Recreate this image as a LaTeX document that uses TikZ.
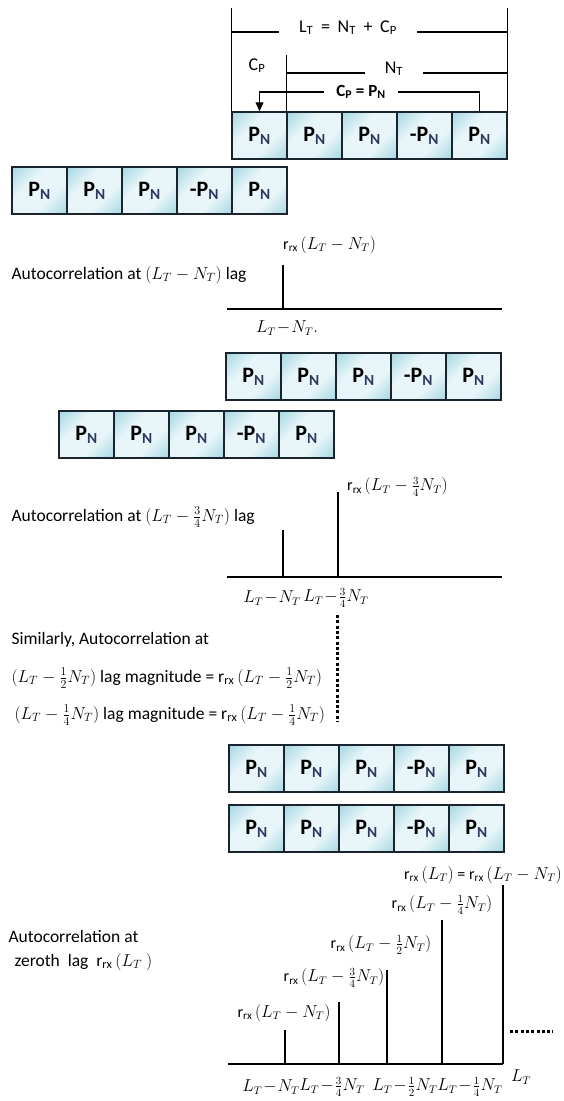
\documentclass[tikz,border=0pt]{standalone}
\usepackage{amsmath}
\usepackage[no-math]{fontspec}
\setmainfont{Carlito}
\usetikzlibrary{arrows.meta,positioning,calc}

\definecolor{celledge}{RGB}{25,36,46}
\definecolor{cellblue}{RGB}{125,195,212}
\definecolor{cellpale}{RGB}{232,246,249}
\definecolor{subblue}{RGB}{45,55,95}
\pgfdeclarehorizontalshading{cellshade}{100bp}{color(0bp)=(cellblue); color(38bp)=(cellpale); color(62bp)=(cellpale); color(100bp)=(cellblue)}

\newcommand{\rrx}{r\textsubscript{rx}\,}
\newcommand{\gap}{\kern0.2em}
% one frame of five blocks: name prefix, left x, top y
\newcommand{\pnrow}[3]{%
  \foreach \lab [count=\i] in {P,P,P,-P,P}
    \node[pncell] (#1-\i) at ({#2+27.5+55*(\i-1)},{#3+23.5}) {\lab\textcolor{subblue}{\textsubscript{N}}};
}

\begin{document}
\begin{tikzpicture}[x=1pt, y=-1pt,
  every node/.style={font=\fontsize{17.5}{20}\selectfont},
  pncell/.style={draw=celledge, line width=1.5pt, shading=cellshade, shading angle=-45,
    minimum width=55pt, minimum height=47pt, inner sep=0pt, font=\fontsize{22}{24}\selectfont\bfseries},
  toplbl/.style={font=\fontsize{18}{20}\selectfont},
  stemlbl/.style={font=\fontsize{16}{18}\selectfont, inner sep=1pt},
  ticklbl/.style={font=\fontsize{16}{18}\selectfont, inner sep=1pt},
  guide/.style={line width=1.1pt},
  axisline/.style={line width=2pt},
  stem/.style={line width=2pt},
  dotline/.style={line width=3pt, dash pattern=on 3pt off 2.3pt}]
  \useasboundingbox (0,0) rectangle (564,1101);

  % block frames
  \pnrow{ra}{232}{112}
  \pnrow{rb}{12}{167}
  \pnrow{rc}{226}{353}
  \pnrow{rd}{59}{411}
  \pnrow{re}{229}{745}
  \pnrow{rf}{229}{805}

  % frame lengths above the first row
  \coordinate (topline) at (0,8);
  \node[toplbl, anchor=base, inner xsep=20pt] (lt) at (348,32) {L\textsubscript{T}\gap{} = \gap N\textsubscript{T}\gap{} + \gap C\textsubscript{P}};
  \draw[guide] (ra-1.north west) -- (ra-1.north west |- topline);
  \draw[guide] (ra-5.north east) -- (ra-5.north east |- topline);
  \draw[guide] (ra-1.north west |- lt.base) -- (lt.base west);
  \draw[guide] (lt.base east) -- (ra-5.north east |- lt.base);
  \node[toplbl, anchor=base] (cp) at (257,70) {C\textsubscript{P}};
  \node[toplbl, anchor=base, inner xsep=20pt] (nt) at (394,73) {N\textsubscript{T}};
  \draw[guide] (ra-2.north west) -- (ra-2.north west |- cp.north);
  \draw[guide] (ra-2.north west |- nt.base) -- (nt.base west);
  \draw[guide] (nt.base east) -- (ra-5.north east |- nt.base);
  % cyclic prefix copy
  \node[font=\fontsize{17}{19}\selectfont\bfseries, fill=white, inner xsep=12pt] (cpn) at (361,92) {C\textsubscript{P} = P\textsubscript{N}};
  \draw[guide] (ra-5.north) |- (cpn.east);
  \draw[guide, -{Triangle[length=9pt,width=8pt]}] (cpn.west) -| (ra-1.north);

  % lag L_T - N_T
  \node[anchor=west] (auto1) at (8,275) {Autocorrelation at $(L_T-N_T)$ lag};
  \coordinate (a1l) at (227,309);
  \coordinate (a1r) at (502,309);
  \draw[axisline] (a1l) -- (a1r);
  \coordinate (s1) at (283,309);
  \coordinate (s1t) at (283,265);
  \draw[stem] (s1) -- (s1t);
  \node[stemlbl, anchor=west] (l1) at (282,245) {\rrx$(L_T-N_T)$};
  \node[ticklbl] (t1) at (287,328) {$L_T\!-\!N_T.$};

  % lag L_T - 3/4 N_T
  \node[anchor=west] (auto2) at (8,517) {Autocorrelation at $(L_T-\tfrac{3}{4}N_T)$ lag};
  \coordinate (a2l) at (227,577);
  \coordinate (a2r) at (502,577);
  \draw[axisline] (a2l) -- (a2r);
  \coordinate (s2a) at (283,577);
  \coordinate (s2at) at (283,530);
  \coordinate (s2b) at (338,577);
  \coordinate (s2bt) at (338,492);
  \draw[stem] (s2a) -- (s2at);
  \draw[stem] (s2b) -- (s2bt);
  \node[stemlbl, anchor=west] (l2) at (346,487) {\rrx$(L_T-\tfrac{3}{4}N_T)$};
  \node[ticklbl] (t2a) at (272,598) {$L_T\!-\!N_T$};
  \node[ticklbl] (t2b) at (336,598) {$L_T\!-\!\tfrac{3}{4}N_T$};

  % further lags
  \coordinate (d1) at (337,615);
  \coordinate (d2) at (337,722);
  \draw[dotline] (d1) -- (d2);
  \node[anchor=west] (sim) at (8,640) {Similarly, Autocorrelation at};
  \node[anchor=west] (sim2) at (8,678) {$(L_T-\tfrac{1}{2}N_T)$ lag magnitude = \rrx$(L_T-\tfrac{1}{2}N_T)$};
  \node[anchor=west] (sim4) at (11,715) {$(L_T-\tfrac{1}{4}N_T)$ lag magnitude = \rrx$(L_T-\tfrac{1}{4}N_T)$};

  % zeroth lag
  \node[anchor=west] (auto3) at (5,936) {Autocorrelation at};
  \node[anchor=west] (auto3b) at (11,962) {zeroth\ \ lag\ \ \rrx$(L_T\ )$};
  \coordinate (a3l) at (228,1064);
  \draw[axisline] (a3l) -- (503,1064) coordinate (a3r);
  \foreach \sx/\st [count=\k] in {285/1030, 339/1002, 387/970, 442/920, 503/885} {
    \coordinate (b\k) at (\sx,1064);
    \coordinate (bt\k) at (\sx,\st);
    \draw[stem] (b\k) -- (bt\k);
  }
  \node[stemlbl] (bl1) at (284,1013) {\rrx$(L_T-N_T)$};
  \node[stemlbl] (bl2) at (334,978) {\rrx$(L_T-\tfrac{3}{4}N_T)$};
  \node[stemlbl] (bl3) at (381,945) {\rrx$(L_T-\tfrac{1}{2}N_T)$};
  \node[stemlbl] (bl4) at (442,905) {\rrx$(L_T-\tfrac{1}{4}N_T)$};
  \node[stemlbl, anchor=east] (bl5) at (563,875) {\rrx$(L_T)$ = \rrx$(L_T-N_T)$};
  \node[ticklbl] (tb1) at (271,1087) {$L_T\!-\!N_T$};
  \node[ticklbl] (tb2) at (332,1087) {$L_T\!-\!\tfrac{3}{4}N_T$};
  \node[ticklbl] (tb3) at (405,1087) {$L_T\!-\!\tfrac{1}{2}N_T$};
  \node[ticklbl] (tb4) at (470,1087) {$L_T\!-\!\tfrac{1}{4}N_T$};
  \node[ticklbl] (tb5) at (521,1077) {$L_T$};
  \coordinate (e1) at (510,1031);
  \coordinate (e2) at (553,1031);
  \draw[dotline] (e1) -- (e2);
\end{tikzpicture}
\end{document}
